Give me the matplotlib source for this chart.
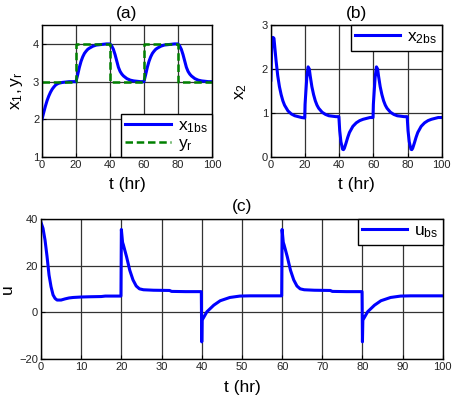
import numpy as np
import matplotlib
matplotlib.use('Agg')
import matplotlib.pyplot as plt

plt.rcParams['font.family'] = ['Liberation Sans', 'DejaVu Sans']
plt.rcParams['mathtext.fontset'] = 'custom'
plt.rcParams['mathtext.rm'] = 'Liberation Sans'
plt.rcParams['mathtext.it'] = 'Liberation Sans'

# (a) output x1 and reference yr
t_x1 = [0, 1, 2, 3, 4, 5, 6, 7, 8, 9, 10, 12, 14, 16, 18, 20,
        21, 22, 23, 24, 25, 26, 27, 28, 30, 32, 34, 36, 38, 40,
        41, 42, 43, 44, 45, 46, 47, 48, 50, 52, 54, 56, 58, 60,
        61, 62, 63, 64, 65, 66, 67, 68, 70, 72, 74, 76, 78, 80,
        81, 82, 83, 84, 85, 86, 87, 88, 90, 92, 94, 96, 98, 100]
x1 = [2.00, 2.18, 2.35, 2.50, 2.62, 2.72, 2.80, 2.86, 2.91, 2.94, 2.96, 2.98, 2.99, 3.00, 3.00, 3.00,
      3.18, 3.38, 3.54, 3.66, 3.75, 3.81, 3.86, 3.89, 3.94, 3.97, 3.98, 3.99, 4.00, 4.00,
      3.95, 3.86, 3.72, 3.55, 3.38, 3.27, 3.20, 3.15, 3.08, 3.04, 3.02, 3.01, 3.00, 3.00,
      3.18, 3.38, 3.54, 3.66, 3.75, 3.81, 3.86, 3.89, 3.94, 3.97, 3.98, 3.99, 4.00, 4.00,
      3.95, 3.86, 3.72, 3.55, 3.38, 3.27, 3.20, 3.15, 3.08, 3.04, 3.02, 3.01, 3.00, 3.00]
t_yr = [0, 20, 20, 40, 40, 60, 60, 80, 80, 100]
yr = [3, 3, 4, 4, 3, 3, 4, 4, 3, 3]

# (b) state x2
t_x2 = [0, 0.5, 1.2, 1.8, 3, 4, 5, 6, 7, 8, 10, 12, 14, 16, 18, 19.8,
        20, 21, 21.8, 22.5, 23, 24, 25, 26, 27, 28, 30, 32, 34, 36, 38, 39.8,
        40.3, 41, 42, 42.5, 43, 44, 45, 46, 48, 50, 52, 54, 56, 58, 59.8,
        60, 61, 61.8, 62.5, 63, 64, 65, 66, 67, 68, 70, 72, 74, 76, 78, 79.8,
        80.3, 81, 82, 82.5, 83, 84, 85, 86, 88, 90, 92, 94, 96, 98, 100]
x2 = [1.75, 2.50, 2.72, 2.70, 2.20, 1.85, 1.60, 1.42, 1.28, 1.18, 1.05, 0.98, 0.94, 0.92, 0.90, 0.89,
      1.20, 1.80, 2.05, 2.00, 1.85, 1.60, 1.42, 1.28, 1.18, 1.11, 1.02, 0.97, 0.94, 0.93, 0.92, 0.92,
      0.60, 0.35, 0.18, 0.17, 0.20, 0.32, 0.45, 0.56, 0.70, 0.78, 0.83, 0.86, 0.88, 0.90, 0.90,
      1.20, 1.80, 2.05, 2.00, 1.85, 1.60, 1.42, 1.28, 1.18, 1.11, 1.02, 0.97, 0.94, 0.93, 0.92, 0.92,
      0.60, 0.35, 0.18, 0.17, 0.20, 0.32, 0.45, 0.56, 0.70, 0.78, 0.83, 0.86, 0.88, 0.90, 0.90]

# (c) control input u
t_u = [0, 0.5, 1, 1.5, 2, 2.5, 3, 3.5, 4, 5, 6, 7, 8, 10, 12, 15, 16, 19.9,
       20, 20.3, 20.5, 21.3, 22.1, 22.9, 23.7, 24.5, 25.5, 28, 32, 32.5, 36, 39.9,
       40, 40.1, 41.3, 43, 44.6, 47, 49.5, 52, 55, 59.9,
       60, 60.3, 60.5, 61.3, 62.1, 62.9, 63.7, 64.5, 65.5, 68, 72, 72.5, 76, 79.9,
       80, 80.1, 81.3, 83, 84.6, 87, 89.5, 92, 95, 100]
u = [38.5, 36, 31, 24, 16, 11, 7.5, 6.0, 5.3, 5.3, 5.8, 6.2, 6.4, 6.6, 6.7, 6.8, 7.0, 7.0,
     35.5, 30, 28.9, 23.8, 18, 13.9, 11.3, 10.1, 9.7, 9.5, 9.4, 9.0, 8.9, 8.9,
     -12.6, -3.3, 0.3, 3.1, 5.0, 6.4, 7.0, 7.1, 7.1, 7.1,
     35.5, 30, 28.9, 23.8, 18, 13.9, 11.3, 10.1, 9.7, 9.5, 9.4, 9.0, 8.9, 8.9,
     -12.6, -3.3, 0.3, 3.1, 5.0, 6.4, 7.0, 7.1, 7.1, 7.1]

blue = '#0000ff'
green = '#008000'
lab_fs = 12.5


def style_axis(ax):
    ax.grid(True, color='#333333', linewidth=0.9)
    ax.set_axisbelow(True)
    ax.tick_params(direction='in', length=3, labelsize=8, pad=2, labelcolor='#222222')
    for s in ax.spines.values():
        s.set_linewidth(1.0)


def add_legend(ax, loc, spacing=0.2):
    leg = ax.legend(loc=loc, borderaxespad=0, fontsize=12.5, fancybox=False,
                    edgecolor='black', framealpha=1, handlelength=2.6, labelspacing=spacing,
                    borderpad=0.25, handletextpad=0.4)
    leg.get_frame().set_linewidth(1.0)


fig = plt.figure(figsize=(4.53, 4.04), dpi=100)

ax1 = fig.add_axes([0.0927, 0.611, 0.375, 0.327])
ax1.plot(t_x1, x1, color=blue, lw=2.2, label=r'$\mathregular{x_{1bs}}$')
ax1.plot(t_yr, yr, color=green, lw=1.8, ls=(0, (3, 1.5)), label=r'$\mathregular{y_r}$')
ax1.set_xlim(0, 100)
ax1.set_ylim(1, 4.5)
ax1.set_xticks([0, 20, 40, 60, 80, 100])
ax1.set_yticks([1, 2, 3, 4])
ax1.set_xlabel('t (hr)', fontsize=lab_fs, labelpad=5)
ax1.set_ylabel(r'$\mathregular{x_1, y_r}$', fontsize=lab_fs, labelpad=6)
ax1.set_title('(a)', fontsize=lab_fs, pad=5)
style_axis(ax1)
add_legend(ax1, 'lower right', spacing=0.05)

ax2 = fig.add_axes([0.598, 0.611, 0.377, 0.327])
ax2.plot(t_x2, x2, color=blue, lw=2.2, label=r'$\mathregular{x_{2bs}}$')
ax2.set_xlim(0, 100)
ax2.set_ylim(0, 3)
ax2.set_xticks([0, 20, 40, 60, 80, 100])
ax2.set_yticks([0, 1, 2, 3])
ax2.set_xlabel('t (hr)', fontsize=lab_fs, labelpad=5)
ax2.set_ylabel(r'$\mathregular{x_2}$', fontsize=lab_fs, labelpad=9)
ax2.set_title('(b)', fontsize=lab_fs, pad=5)
style_axis(ax2)
add_legend(ax2, 'upper right')

ax3 = fig.add_axes([0.0905, 0.111, 0.887, 0.347])
ax3.plot(t_u, u, color=blue, lw=2.2, label=r'$\mathregular{u_{bs}}$')
ax3.set_xlim(0, 100)
ax3.set_ylim(-20, 40)
ax3.set_xticks(np.arange(0, 101, 10))
ax3.set_yticks([-20, 0, 20, 40])
ax3.set_xlabel('t (hr)', fontsize=lab_fs, labelpad=6)
ax3.set_ylabel('u', fontsize=lab_fs, labelpad=3)
ax3.set_title('(c)', fontsize=lab_fs, pad=6)
style_axis(ax3)
add_legend(ax3, 'upper right')

fig.savefig('out.png', dpi=100)
